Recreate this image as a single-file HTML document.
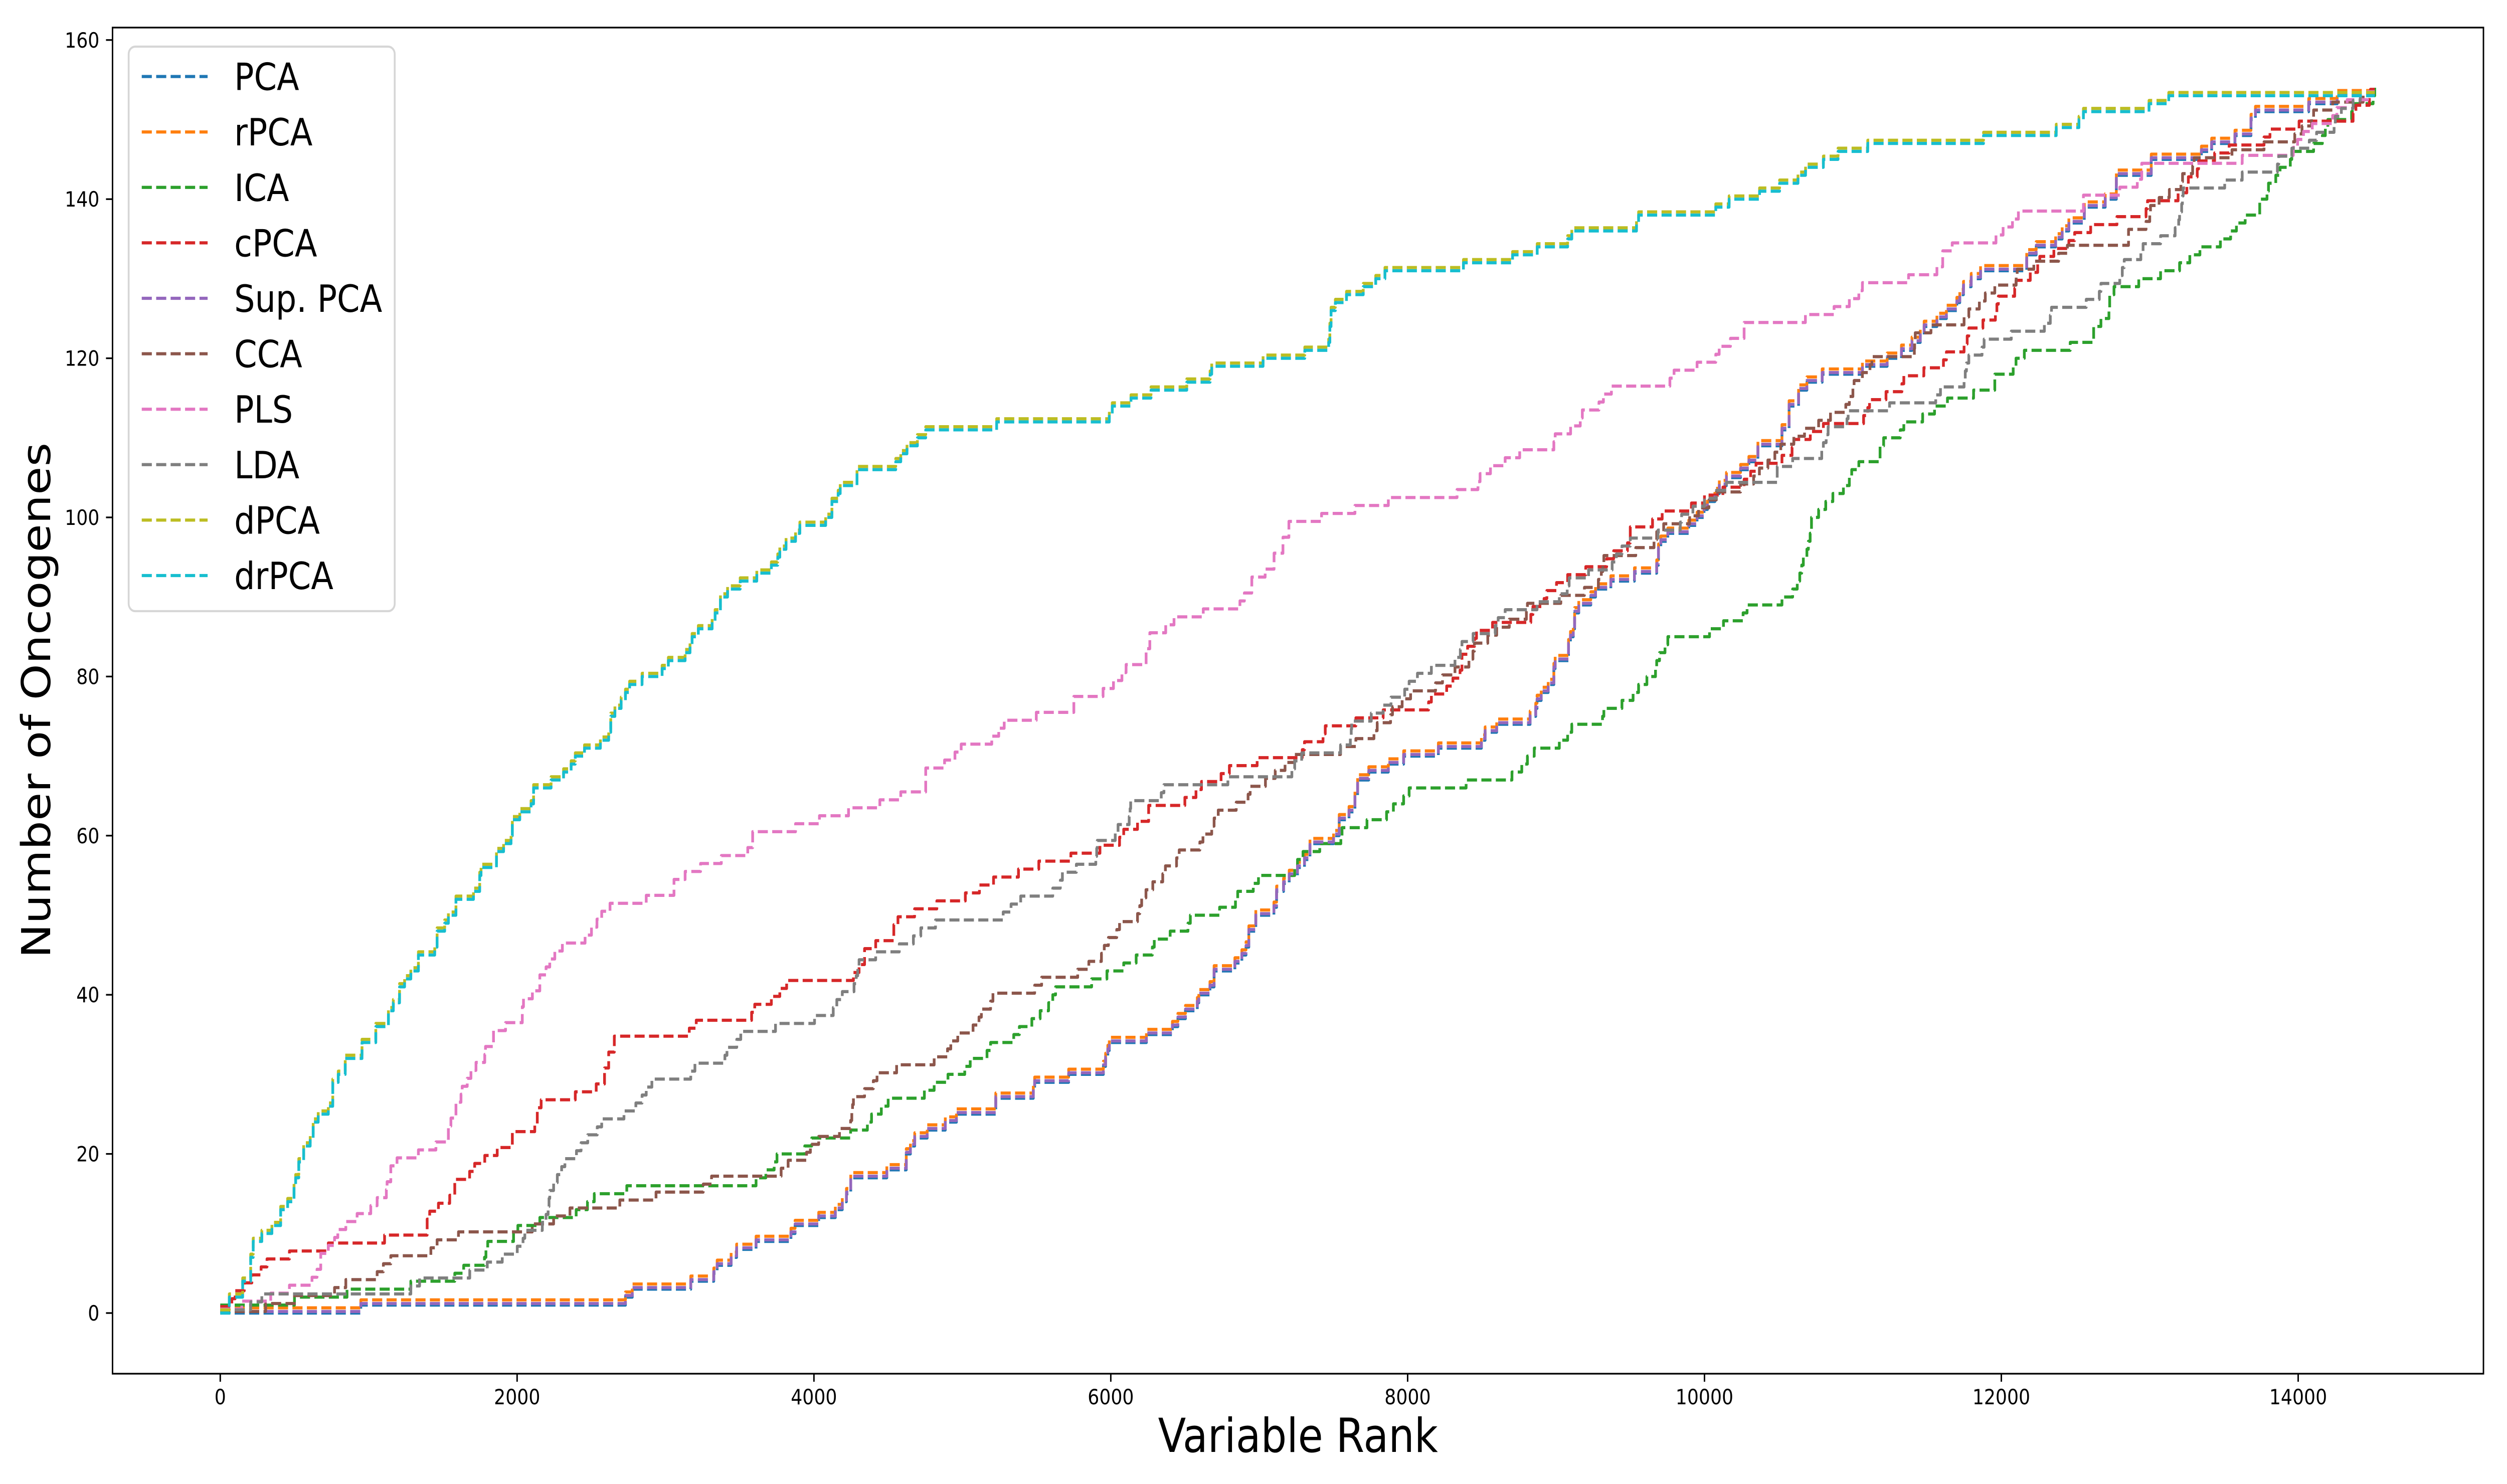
<!DOCTYPE html>
<html lang="en">
<head>
<meta charset="utf-8">
<title>Number of Oncogenes vs Variable Rank</title>
<style>
html,body{margin:0;padding:0;background:#fff;width:100%;height:100%;overflow:hidden}
svg{display:block;width:100vw;height:100vh;font-family:"DejaVu Sans","Liberation Sans",sans-serif}
</style>
</head>
<body>
<svg id="chart" xmlns="http://www.w3.org/2000/svg" viewBox="0 0 5748 2960" preserveAspectRatio="none">
  <rect x="0" y="0" width="5748" height="2960" fill="#ffffff"/>
  <g id="lines"></g>
  <g id="ticks"></g>
  <rect x="258" y="55" width="5436" height="2685" fill="none" stroke="#000" stroke-width="3.33"/>
  <text x="2976" y="2896" font-size="93.5" text-anchor="middle">Variable Rank</text>
  <text x="115" y="1397" font-size="91.67" text-anchor="middle" transform="rotate(-90 115 1397)">Number of Oncogenes</text>
  <g id="legend">
    <rect x="295" y="93" width="610" height="1126" rx="15" ry="15" fill="#ffffff" fill-opacity="0.8" stroke="#cccccc" stroke-opacity="0.8" stroke-width="4.17"/>
  </g>
</svg>
<script>
const xTicks = [0, 2000, 4000, 6000, 8000, 10000, 12000, 14000];
const yTicks = [0, 20, 40, 60, 80, 100, 120, 140, 160];

const seriesNames = ["PCA", "rPCA", "ICA", "cPCA", "Sup. PCA", "CCA", "PLS", "LDA", "dPCA", "drPCA"];
const seriesColors = ["#1f77b4", "#ff7f0e", "#2ca02c", "#d62728", "#9467bd", "#8c564b", "#e377c2", "#7f7f7f", "#bcbd22", "#17becf"];

const pcaRanks = [0,947,2730,2776,3170,3325,3348,3442,3479,3610,
3845,3873,4032,4144,4191,4219,4248,4491,4622,4650,
4679,4763,4885,4960,5225,5478,5487,5716,5950,5965,
5980,5990,6240,6415,6452,6503,6583,6593,6668,6696,
6836,6883,6911,6930,6977,7099,7117,7164,7202,7258,
7305,7342,7501,7539,7605,7645,7663,7738,7870,7973,
8207,8497,8522,8600,8825,8863,8872,8900,8947,8985,
8994,9084,9097,9116,9125,9153,9234,9266,9369,9528,
9678,9690,9706,9753,9894,9950,9997,10020,10070,10100,
10148,10243,10299,10360,10522,10570,10634,10690,10793,11064,
11231,11327,11398,11454,11480,11566,11630,11700,11720,11745,
11797,11860,12171,12235,12366,12410,12455,12559,12700,12775,
13010,13348,13417,13574,13682,13712,14071,14263,14516];
const pcaCounts = [0,1,2,3,4,5,6,7,8,9,
10,11,12,13,14,15,17,18,20,21,
22,23,24,25,27,28,29,30,31,32,
33,34,35,36,37,38,39,40,41,43,
44,45,46,48,50,51,53,54,55,56,
57,59,60,62,63,65,67,68,69,70,
71,72,73,74,75,76,77,78,79,81,
82,84,85,86,88,89,90,91,92,93,
94,96,97,98,99,100,101,102,103,104,
105,106,107,109,111,114,116,117,118,119,
120,121,122,123,124,125,126,127,128,129,
130,131,133,134,135,136,137,139,140,143,
145,146,147,148,150,151,152,153,153];
const rpcaCounts = [0.65,1.65,2.65,3.65,4.65,5.65,6.65,7.65,8.65,9.65,
10.65,11.65,12.65,13.65,14.65,15.65,17.65,18.65,20.65,21.65,
22.65,23.65,24.65,25.65,27.65,28.65,29.65,30.65,31.65,32.65,
33.65,34.65,35.65,36.65,37.65,38.65,39.65,40.65,41.65,43.65,
44.65,45.65,46.65,48.65,50.65,51.65,53.65,54.65,55.65,56.65,
57.65,59.65,60.65,62.65,63.65,65.65,67.65,68.65,69.65,70.65,
71.65,72.65,73.65,74.65,75.65,76.65,77.65,78.65,79.65,81.65,
82.65,84.65,85.65,86.65,88.65,89.65,90.65,91.65,92.65,93.65,
94.65,96.65,97.65,98.65,99.65,100.65,101.65,102.65,103.65,104.65,
105.65,106.65,107.65,109.65,111.65,114.65,116.65,117.65,118.65,119.65,
120.65,121.65,122.65,123.65,124.65,125.65,126.65,127.65,128.65,129.65,
130.65,131.65,133.65,134.65,135.65,136.65,137.65,139.65,140.65,143.65,
145.65,146.65,147.65,148.65,150.65,151.65,152.65,153.65,153.65];
const supCounts = [0.2,1.2,2.2,3.2,4.2,5.2,6.2,7.2,8.2,9.2,
10.2,11.2,12.2,13.2,14.2,15.2,17.2,18.2,20.2,21.2,
22.2,23.2,24.2,25.2,27.2,28.2,29.2,30.2,31.2,32.2,
33.2,34.2,35.2,36.2,37.2,38.2,39.2,40.2,41.2,43.2,
44.2,45.2,46.2,48.2,50.2,51.2,53.2,54.2,55.2,56.2,
57.2,59.2,60.2,62.2,63.2,65.2,67.2,68.2,69.2,70.2,
71.2,72.2,73.2,74.2,75.2,76.2,77.2,78.2,79.2,81.2,
82.2,84.2,85.2,86.2,88.2,89.2,90.2,91.2,92.2,93.2,
94.2,96.2,97.2,98.2,99.2,100.2,101.2,102.2,103.2,104.2,
105.2,106.2,107.2,109.2,111.2,114.2,116.2,117.2,118.2,119.2,
120.2,121.2,122.2,123.2,124.2,125.2,126.2,127.2,128.2,129.2,
130.2,131.2,133.2,134.2,135.2,136.2,137.2,139.2,140.2,143.2,
145.2,146.2,147.2,148.2,150.2,151.2,152.2,153.2,153.2];

const icaRanks = [0,500,854,1284,1580,1640,1780,1790,1802,1976,
2005,2153,2398,2474,2520,2739,3610,3676,3732,3751,
3938,3985,4247,4360,4388,4454,4500,4744,4810,4903,
5016,5053,5166,5190,5346,5384,5468,5524,5581,5609,
5628,5871,5974,6087,6171,6280,6293,6400,6520,6536,
6733,6840,6855,6960,6995,7239,7258,7295,7408,7550,
7558,7726,7858,7904,7973,8010,8394,8703,8769,8807,
8853,9022,9078,9106,9313,9322,9444,9519,9556,9612,
9670,9678,9697,9734,9753,10034,10128,10260,10287,10522,
10594,10625,10642,10655,10666,10690,10700,10712,10721,10769,
10817,10865,10936,10976,10992,11040,11183,11207,11319,11343,
11470,11550,11637,11813,11956,12080,12099,12155,12464,12622,
12671,12725,12730,12759,12926,13073,13201,13270,13338,13476,
13545,13584,13643,13741,13790,13800,13849,13878,13947,13957,
14104,14163,14183,14200,14360,14380,14505,14516];
const icaCounts = [1,2,3,4,5,6,7,8,9,10,
11,12,13,14,15,16,17,18,19,20,
21,22,23,24,25,26,27,28,29,30,
31,32,33,34,35,36,37,38,39,40,
41,42,43,44,45,46,47,48,49,50,
51,52,53,54,55,56,57,58,59,60,
61,62,63,64,65,66,67,68,69,70,
71,72,73,74,75,76,77,78,79,80,
81,82,83,84,85,86,87,88,89,90,
91,92,93,94,95,96,97,98,100,101,
102,103,104,105,106,107,109,110,111,112,
113,114,115,116,118,119,120,121,122,124,
125,126,128,129,130,131,132,133,134,135,
136,137,138,140,141,142,143,144,145,146,
147,148,149,150,151,152,153,154];

const cpcaRanks = [0,78,100,162,213,275,315,466,728,1107,
1394,1411,1470,1546,1580,1680,1714,1782,1866,1968,
2119,2136,2162,2392,2533,2589,2617,2655,3160,3207,
3580,3601,3713,3770,3816,4266,4304,4341,4416,4538,
4566,4678,4828,5020,5115,5210,5378,5515,5731,5927,
6059,6087,6180,6255,6499,6574,6611,6743,6799,6986,
7290,7305,7430,7445,7651,7835,8141,8160,8263,8305,
8353,8366,8404,8451,8464,8572,8830,8844,8919,8938,
9003,9078,9200,9341,9388,9481,9500,9650,9715,9912,
10000,10124,10267,10311,10347,10522,10590,10602,10713,10801,
11072,11100,11112,11223,11330,11343,11478,11610,11630,11749,
11770,11781,11876,11960,11970,11980,12090,12099,12195,12245,
12259,12354,12455,12494,12602,12779,12975,12985,13191,13250,
13260,13320,13329,13437,13535,13770,13810,14006,14370,14389,
14480,14487,14516];
const cpcaCounts = [0.8,1.8,2.8,3.8,4.8,5.8,6.8,7.8,8.8,9.8,
11.8,12.8,13.8,14.8,16.8,17.8,18.8,19.8,20.8,22.8,
23.8,25.8,26.8,27.8,28.8,30.8,32.8,34.8,35.8,36.8,
37.8,38.8,39.8,40.8,41.8,42.8,43.8,45.8,46.8,48.8,
49.8,50.8,51.8,52.8,53.8,54.8,55.8,56.8,57.8,58.8,
59.8,60.8,61.8,63.8,64.8,65.8,66.8,67.8,68.8,69.8,
70.8,71.8,72.8,73.8,74.8,75.8,76.8,77.8,78.8,79.8,
80.8,82.8,83.8,84.8,85.8,86.8,87.8,88.8,89.8,90.8,
91.8,92.8,93.8,94.8,95.8,96.8,98.8,99.8,100.8,101.8,
102.8,103.8,104.8,105.8,106.8,107.8,108.8,109.8,110.8,111.8,
112.8,113.8,114.8,115.8,116.8,117.8,118.8,119.8,120.8,121.8,
122.8,123.8,124.8,125.8,126.8,127.8,128.8,129.8,130.8,131.8,
132.8,133.8,134.8,135.8,136.8,137.8,138.8,139.8,140.8,141.8,
142.8,143.8,144.8,145.8,146.8,147.8,148.8,149.8,150.8,151.8,
152.8,153.8,153.8];

const ccaRanks = [0,306,500,770,846,1057,1099,1149,1419,1461,
1605,2102,2246,2356,2692,2936,3254,3310,3779,3826,
3950,3976,4032,4172,4247,4255,4260,4266,4341,4400,
4425,4557,4810,4900,4922,4969,5072,5112,5128,5190,
5206,5487,5534,5777,5852,5937,5956,5984,6040,6059,
6180,6195,6208,6237,6283,6350,6368,6443,6461,6600,
6621,6680,6696,6724,6845,6925,6939,7042,7108,7174,
7239,7548,7651,7773,7795,7885,7898,7963,8020,8188,
8235,8319,8413,8440,8450,8540,8600,8685,8800,8807,
9032,9191,9285,9305,9315,9322,9537,9660,9678,9725,
9900,9960,10030,10080,10243,10331,10370,10427,10474,10514,
10602,10674,10769,10849,10952,10976,11000,11008,11064,11115,
11128,11414,11416,11420,11526,11749,11781,11852,11892,11956,
12100,12107,12219,12386,12445,12857,12975,13000,13005,13063,
13132,13210,13221,13289,13299,13554,13770,13977,14026,14090,
14104,14232,14438,14516];
const ccaCounts = [0.2,1.2,2.2,3.2,4.2,5.2,6.2,7.2,8.2,9.2,
10.2,11.2,12.2,13.2,14.2,15.2,16.2,17.2,18.2,19.2,
20.2,21.2,22.2,23.2,24.2,25.2,26.2,27.2,28.2,29.2,
30.2,31.2,32.2,33.2,34.2,35.2,36.2,37.2,38.2,39.2,
40.2,41.2,42.2,43.2,44.2,45.2,46.2,47.2,48.2,49.2,
50.2,51.2,52.2,53.2,54.2,55.2,56.2,57.2,58.2,59.2,
60.2,61.2,62.2,63.2,64.2,65.2,66.2,67.2,68.2,69.2,
70.2,71.2,72.2,73.2,74.2,75.2,76.2,77.2,78.2,79.2,
80.2,81.2,82.2,83.2,84.2,85.2,86.2,87.2,88.2,89.2,
90.2,91.2,92.2,93.2,94.2,95.2,96.2,97.2,98.2,99.2,
100.2,101.2,102.2,103.2,104.2,105.2,106.2,107.2,108.2,109.2,
110.2,111.2,112.2,113.2,114.2,115.2,116.2,117.2,118.2,119.2,
120.2,121.2,122.2,123.2,124.2,125.2,126.2,127.2,128.2,129.2,
130.2,131.2,132.2,133.2,134.2,136.2,137.2,138.2,139.2,140.2,
141.2,142.2,143.2,144.2,145.2,146.2,147.2,148.2,149.2,150.2,
151.2,152.2,153.2,153.2];

const plsRanks = [0,145,340,466,618,652,677,728,770,792,
846,922,1014,1057,1119,1124,1149,1191,1335,1453,
1537,1554,1588,1622,1630,1664,1689,1723,1782,1787,
1841,1922,2035,2043,2103,2153,2195,2220,2254,2305,
2458,2501,2538,2570,2626,2870,3057,3132,3236,3376,
3554,3587,3876,4037,4233,4444,4585,4753,4880,4950,
4992,5198,5245,5282,5498,5751,5948,6018,6075,6103,
6238,6263,6370,6426,6623,6870,6900,6950,7040,7100,
7160,7200,7420,7645,7870,8333,8474,8488,8558,8657,
8755,8985,8994,9098,9163,9177,9289,9319,9373,9767,
9795,9950,10076,10099,10175,10267,10680,10873,10976,11040,
11064,11375,11566,11605,11669,11964,12012,12075,12115,12553,
12798,12916,12946,13623,13967,13996,14036,14095,14232,14261,
14330,14468,14516];
const plsCounts = [0.5,1.5,2.5,3.5,4.5,5.5,7.5,8.5,9.5,10.5,
11.5,12.5,13.5,14.5,15.5,16.5,18.5,19.5,20.5,21.5,
23.5,24.5,26.5,27.5,28.5,29.5,30.5,31.5,32.5,33.5,
35.5,36.5,38.5,39.5,40.5,42.5,43.5,44.5,45.5,46.5,
47.5,48.5,49.5,50.5,51.5,52.5,54.5,55.5,56.5,57.5,
58.5,60.5,61.5,62.5,63.5,64.5,65.5,68.5,69.5,70.5,
71.5,72.5,73.5,74.5,75.5,77.5,78.5,79.5,80.5,81.5,
83.5,85.5,86.5,87.5,88.5,89.5,90.5,92.5,93.5,95.5,
97.5,99.5,100.5,101.5,102.5,103.5,104.5,105.5,106.5,107.5,
108.5,109.5,110.5,111.5,112.5,113.5,114.5,115.5,116.5,117.5,
118.5,119.5,120.5,121.5,122.5,124.5,125.5,126.5,127.5,128.5,
129.5,130.5,131.5,133.5,134.5,135.5,136.5,137.5,138.5,140.5,
141.5,142.5,144.5,145.5,146.5,147.5,148.5,149.5,150.5,151.5,
152.5,153.5,153.5];

const ldaRanks = [0,205,280,1284,1343,1681,1799,1900,2001,2040,
2052,2170,2195,2209,2215,2220,2246,2271,2300,2322,
2400,2431,2476,2540,2570,2720,2800,2842,2870,2908,
3170,3198,3400,3414,3480,3507,3741,4004,4130,4154,
4191,4270,4285,4295,4304,4416,4575,4670,4720,4819,
5275,5328,5393,5609,5660,5674,5768,5899,5905,5909,
6030,6049,6124,6130,6134,6340,6358,6789,7220,7239,
7286,7548,7614,7620,7623,7755,7835,7888,7980,8010,
8066,8160,8319,8355,8366,8441,8590,8610,8657,8872,
9022,9075,9088,9219,9378,9406,9444,9500,9687,9837,
9846,9922,10000,10080,10148,10490,10594,10790,10801,10820,
10833,10960,10968,11247,11558,11590,11749,11757,11765,11781,
11870,11884,12067,12290,12330,12338,12572,12660,12671,12798,
12815,12828,12940,12955,13073,13171,13195,13201,13215,13220,
13225,13505,13623,13860,13869,13957,14075,14124,14242,14250,
14291,14370,14419,14516];
const ldaCounts = [0.4,1.4,2.4,3.4,4.4,5.4,6.4,7.4,8.4,9.4,
10.4,11.4,12.4,13.4,14.4,15.4,16.4,17.4,18.4,19.4,
20.4,21.4,22.4,23.4,24.4,25.4,26.4,27.4,28.4,29.4,
30.4,31.4,32.4,33.4,34.4,35.4,36.4,37.4,38.4,39.4,
40.4,41.4,42.4,43.4,44.4,45.4,46.4,47.4,48.4,49.4,
50.4,51.4,52.4,53.4,54.4,55.4,56.4,57.4,58.4,59.4,
60.4,61.4,62.4,63.4,64.4,65.4,66.4,67.4,68.4,69.4,
70.4,71.4,72.4,73.4,74.4,75.4,76.4,77.4,78.4,79.4,
80.4,81.4,82.4,83.4,84.4,85.4,86.4,87.4,88.4,89.4,
90.4,91.4,92.4,93.4,94.4,95.4,96.4,97.4,98.4,99.4,
100.4,101.4,102.4,103.4,104.4,106.4,107.4,108.4,109.4,110.4,
111.4,112.4,113.4,114.4,115.4,116.4,117.4,118.4,119.4,120.4,
121.4,122.4,123.4,124.4,125.4,126.4,127.4,128.4,129.4,130.4,
131.4,132.4,133.4,134.4,135.4,136.4,137.4,138.4,139.4,140.4,
141.4,142.4,143.4,144.4,145.4,146.4,147.4,148.4,149.4,150.4,
151.4,152.4,153.4,153.4];

const dpcaRanks = [0,61,151,205,222,280,348,407,454,497,
508,529,562,606,626,660,728,758,795,842,
955,1048,1133,1166,1208,1242,1284,1335,1445,1461,
1512,1537,1588,1706,1748,1757,1861,1909,1959,1968,
2018,2094,2111,2229,2313,2364,2392,2454,2561,2617,
2631,2659,2701,2730,2758,2842,2977,3019,3132,3165,
3179,3221,3314,3334,3370,3418,3503,3615,3713,3756,
3770,3812,3876,3905,4079,4121,4163,4177,4290,4551,
4585,4627,4697,4753,5231,5990,6010,6136,6271,6512,
6669,6680,7026,7307,7468,7476,7484,7513,7588,7701,
7785,7847,8376,8707,8873,9078,9106,9542,9556,10076,
10166,10371,10506,10630,10681,10801,10900,11100,11880,12370,
12523,12553,12995,13128,14516];
const dpcaCounts = [0.4,2.4,4.4,7.4,9.4,10.4,11.4,13.4,14.4,16.4,
17.4,19.4,21.4,22.4,24.4,25.4,26.4,29.4,30.4,32.4,
34.4,36.4,38.4,39.4,41.4,42.4,43.4,45.4,46.4,48.4,
49.4,50.4,52.4,53.4,55.4,56.4,58.4,59.4,60.4,62.4,
63.4,64.4,66.4,67.4,68.4,69.4,70.4,71.4,72.4,73.4,
75.4,76.4,77.4,78.4,79.4,80.4,81.4,82.4,83.4,84.4,
85.4,86.4,87.4,88.4,90.4,91.4,92.4,93.4,94.4,95.4,
96.4,97.4,98.4,99.4,100.4,102.4,103.4,104.4,106.4,107.4,
108.4,109.4,110.4,111.4,112.4,113.4,114.4,115.4,116.4,117.4,
118.4,119.4,120.4,121.4,122.4,124.4,126.4,127.4,128.4,129.4,
130.4,131.4,132.4,133.4,134.4,135.4,136.4,137.4,138.4,139.4,
140.4,141.4,142.4,143.4,144.4,145.4,146.4,147.4,148.4,149.4,
150.4,151.4,152.4,153.4,153.4];
const drpcaCounts = [0,2,4,7,9,10,11,13,14,16,
17,19,21,22,24,25,26,29,30,32,
34,36,38,39,41,42,43,45,46,48,
49,50,52,53,55,56,58,59,60,62,
63,64,66,67,68,69,70,71,72,73,
75,76,77,78,79,80,81,82,83,84,
85,86,87,88,90,91,92,93,94,95,
96,97,98,99,100,102,103,104,106,107,
108,109,110,111,112,113,114,115,116,117,
118,119,120,121,122,124,126,127,128,129,
130,131,132,133,134,135,136,137,138,139,
140,141,142,143,144,145,146,147,148,149,
150,151,152,153,153];

const seriesRanks = [pcaRanks, pcaRanks, icaRanks, cpcaRanks, pcaRanks, ccaRanks, plsRanks, ldaRanks, dpcaRanks, dpcaRanks];
const seriesCounts = [pcaCounts, rpcaCounts, icaCounts, cpcaCounts, supCounts, ccaCounts, plsCounts, ldaCounts, dpcaCounts, drpcaCounts];

const SVG_NS = "http://www.w3.org/2000/svg";
function xScale(v) { return 505 + v * 0.3403; }
function yScale(v) { return 2619 - v * 15.87; }
function slug(s) { return s.toLowerCase().replace(/[^a-z0-9]+/g, "-"); }

const linesLayer = document.getElementById("lines");
seriesNames.forEach(function (name, i) {
  const ranks = seriesRanks[i];
  const counts = seriesCounts[i];
  const n = Math.min(ranks.length, counts.length);
  let d = "M" + xScale(ranks[0]).toFixed(2) + " " + yScale(counts[0]).toFixed(2);
  for (let k = 1; k < n; k++) {
    d += "H" + xScale(ranks[k]).toFixed(2) + "V" + yScale(counts[k]).toFixed(2);
  }
  const path = document.createElementNS(SVG_NS, "path");
  path.setAttribute("d", d);
  path.setAttribute("fill", "none");
  path.setAttribute("stroke", seriesColors[i]);
  path.setAttribute("stroke-width", "6.25");
  path.setAttribute("stroke-dasharray", "23.1 10");
  path.setAttribute("stroke-linejoin", "round");
  path.setAttribute("stroke-linecap", "butt");
  
  
  linesLayer.appendChild(path);
});

const ticksLayer = document.getElementById("ticks");
xTicks.forEach(function (t) {
  const px = xScale(t);
  const mark = document.createElementNS(SVG_NS, "line");
  mark.setAttribute("x1", px);
  mark.setAttribute("x2", px);
  mark.setAttribute("y1", 2740);
  mark.setAttribute("y2", 2756);
  mark.setAttribute("stroke", "#000");
  mark.setAttribute("stroke-width", "3.33");
  
  
  ticksLayer.appendChild(mark);
  const label = document.createElementNS(SVG_NS, "text");
  label.setAttribute("x", px);
  label.setAttribute("y", 2801);
  label.setAttribute("font-size", "41.67");
  label.setAttribute("text-anchor", "middle");
  label.textContent = String(t);
  
  
  ticksLayer.appendChild(label);
});
yTicks.forEach(function (t) {
  const py = yScale(t);
  const mark = document.createElementNS(SVG_NS, "line");
  mark.setAttribute("x1", 243);
  mark.setAttribute("x2", 258);
  mark.setAttribute("y1", py);
  mark.setAttribute("y2", py);
  mark.setAttribute("stroke", "#000");
  mark.setAttribute("stroke-width", "3.33");
  
  
  ticksLayer.appendChild(mark);
  const label = document.createElementNS(SVG_NS, "text");
  label.setAttribute("x", 228);
  label.setAttribute("y", py + 15);
  label.setAttribute("font-size", "41.67");
  label.setAttribute("text-anchor", "end");
  label.textContent = String(t);
  
  
  ticksLayer.appendChild(label);
});

const legendLayer = document.getElementById("legend");
seriesNames.forEach(function (name, i) {
  const rowY = 152.6 + i * 110.6;
  const swatch = document.createElementNS(SVG_NS, "line");
  swatch.setAttribute("x1", 325);
  swatch.setAttribute("x2", 476);
  swatch.setAttribute("y1", rowY);
  swatch.setAttribute("y2", rowY);
  swatch.setAttribute("stroke", seriesColors[i]);
  swatch.setAttribute("stroke-width", "6.25");
  swatch.setAttribute("stroke-dasharray", "23.1 10");
  
  
  legendLayer.appendChild(swatch);
  const label = document.createElementNS(SVG_NS, "text");
  label.setAttribute("x", 537);
  label.setAttribute("y", rowY + 27);
  label.setAttribute("font-size", "75");
  label.textContent = name;
  
  
  legendLayer.appendChild(label);
});
</script>
</body>
</html>
